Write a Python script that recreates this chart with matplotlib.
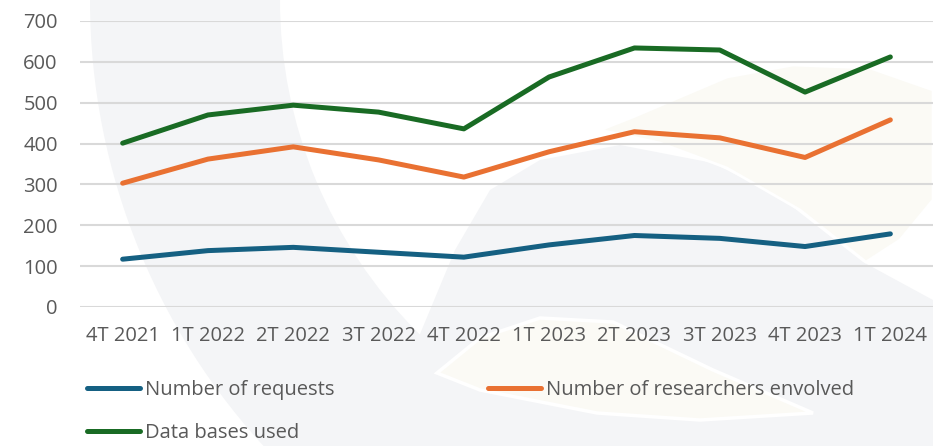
import matplotlib
matplotlib.use("Agg")
import matplotlib.pyplot as plt
from matplotlib.patches import Wedge, Polygon

categories = ["4T 2021", "1T 2022", "2T 2022", "3T 2022", "4T 2022",
              "1T 2023", "2T 2023", "3T 2023", "4T 2023", "1T 2024"]
requests = [117, 138, 146, 134, 122, 152, 175, 168, 148, 179]
researchers = [303, 362, 392, 360, 318, 380, 429, 414, 366, 458]
databases = [401, 470, 494, 477, 436, 563, 634, 629, 526, 612]
yticks = [0, 100, 200, 300, 400, 500, 600, 700]

plt.rcParams['font.family'] = ['Open Sans', 'DejaVu Sans']
text_color = '#595959'

W, H = 933, 446
fig = plt.figure(figsize=(W / 100, H / 100), dpi=100)

# decorative background
gray = '#f4f5f7'
cream = '#fbfaf5'
bg = fig.add_axes([0, 0, 1, 1], zorder=0)
bg.set_xlim(0, W)
bg.set_ylim(H, 0)
bg.axis('off')
bg.add_patch(Wedge((750, 0), 660, 0, 360, width=190, facecolor=gray, edgecolor='none'))
bg.add_patch(Polygon([(380, 446), (405, 370), (430, 310), (455, 250), (490, 190), (540, 160), (620, 145),
                      (713, 163), (780, 197), (863, 262), (933, 300), (933, 446)],
                     closed=True, facecolor=gray, edgecolor='none'))
bg.add_patch(Polygon([(600, 130), (633, 117), (727, 77), (793, 65), (870, 68), (933, 90),
                      (933, 200), (900, 240), (866, 262), (800, 210), (727, 168), (660, 143)],
                     closed=True, facecolor=cream, edgecolor='white', lw=2))
bg.add_patch(Polygon([(437, 373), (480, 338), (540, 318), (613, 322), (713, 370), (813, 413),
                      (700, 420), (597, 413), (480, 390)],
                     closed=True, facecolor=cream, edgecolor='white', lw=2.5))

ax = fig.add_axes([80 / W, 1 - 307 / H, 1 - 80 / W, (307 - 21) / H], zorder=1)
ax.patch.set_alpha(0)
x = list(range(len(categories)))
lw = 3.6
style = dict(lw=lw, solid_capstyle='round', solid_joinstyle='round', zorder=3)
h1, = ax.plot(x, requests, color='#156082', label='Number of requests', **style)
h2, = ax.plot(x, researchers, color='#E97132', label='Number of researchers envolved', **style)
h3, = ax.plot(x, databases, color='#196B24', label='Data bases used', **style)

ax.set_xlim(-0.5, len(categories) - 0.5)
ax.set_ylim(0, 700)
ax.set_yticks(yticks)
ax.set_xticks(x)
ax.set_xticklabels(categories)
ax.grid(axis='y', color='#d9d9d9', lw=1.5, zorder=1)
ax.set_axisbelow(True)
for s in ax.spines.values():
    s.set_visible(False)
ax.tick_params(axis='both', length=0, labelsize=14.5, colors=text_color)
ax.tick_params(axis='y', pad=16)
ax.tick_params(axis='x', pad=14)

leg = fig.legend(handles=[h1, h3, h2], loc='upper left', bbox_to_anchor=(87 / W, 1 - 380 / H),
                 bbox_transform=fig.transFigure,
                 ncol=2, frameon=False, fontsize=14.5, handlelength=2.65, handletextpad=0.25,
                 columnspacing=7.6, labelspacing=1.12, borderpad=0, borderaxespad=0)
for t in leg.get_texts():
    t.set_color(text_color)

fig.savefig('out.png', dpi=100)
